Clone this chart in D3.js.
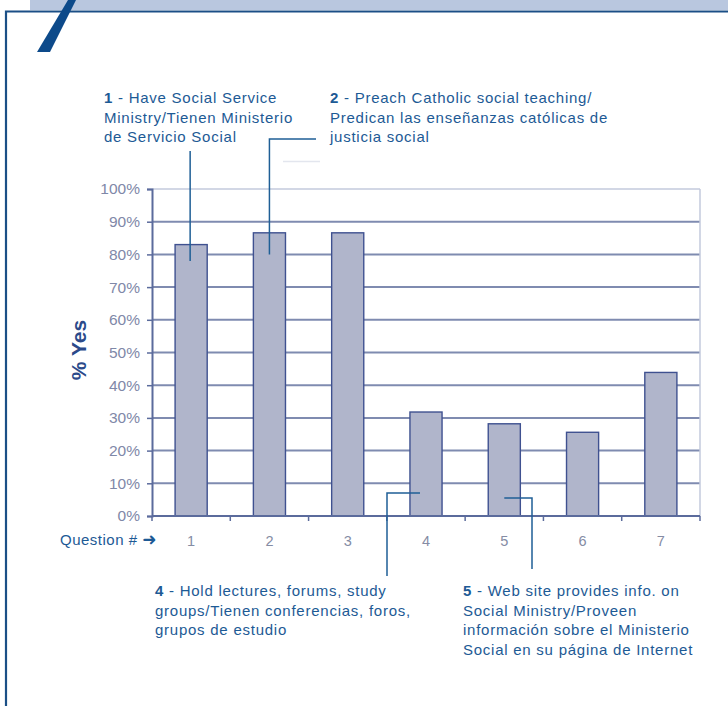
<!DOCTYPE html>
<html>
<head>
<meta charset="utf-8">
<script src="https://cdn.jsdelivr.net/npm/d3@7"></script>
<style>
    body { margin: 0; background: #fff; }
    svg { display: block; font-family: 'Liberation Sans', Arial, sans-serif; }
</style>
</head>
<body>
<div id="chart"></div>
<script>
/* * * * * * * * * * * * * *
 *     Social ministry bars   *
 * * * * * * * * * * * * * */

// data
const questions = ['1', '2', '3', '4', '5', '6', '7'];
const pctYes = [83, 86.6, 86.6, 31.8, 28.2, 25.6, 43.9];
const yTicks = [0, 10, 20, 30, 40, 50, 60, 70, 80, 90, 100];

// callout texts (first chunk is the bold number)
const note1 = ['1', ' - Have Social Service', 'Ministry/Tienen Ministerio', 'de Servicio Social'];
const note2 = ['2', ' - Preach Catholic social teaching/', 'Predican las enseñanzas católicas de', 'justicia social'];
const note4 = ['4', ' - Hold lectures, forums, study', 'groups/Tienen conferencias, foros,', 'grupos de estudio'];
const note5 = ['5', ' - Web site provides info. on', 'Social Ministry/Proveen', 'información sobre el Ministerio', 'Social en su página de Internet'];

const width = 728;
const height = 706;
const margin = { top: 189, right: 28, bottom: 190, left: 152 };
const innerW = width - margin.left - margin.right;
const innerH = height - margin.top - margin.bottom;

const noteBlue = '#1d5a95';
const gridCol = '#7f8bb0';

let svg = d3.select('#chart').append('svg').attr('width', width).attr('height', height);

// page frame
svg.append('rect').attr('x', 30).attr('y', 0).attr('width', width - 30).attr('height', 10).attr('fill', '#b9c7df');
svg.append('path')
    .attr('d', `M6,${height} V11.5 H${width}`)
    .attr('fill', 'none')
    .attr('stroke', '#1b4f86')
    .attr('stroke-width', 2.2);
svg.append('polygon').attr('points', '68,0 76,0 50,52 37,52').attr('fill', '#0d4a8a');

let x = d3.scaleBand().domain(questions).range([0, innerW]).paddingInner(0.59).paddingOuter(0.295);
let xTick = d3.scaleLinear().domain([0, questions.length]).range([0, innerW]);
let y = d3.scaleLinear().domain([0, 100]).range([innerH, 0]);

let g = svg.append('g').attr('transform', `translate(${margin.left},${margin.top})`);

// gridlines
g.selectAll('.grid')
    .data(yTicks.filter((d) => d > 0))
    .enter()
    .append('line')
    .attr('x1', 0)
    .attr('x2', innerW)
    .attr('y1', (d) => y(d))
    .attr('y2', (d) => y(d))
    .attr('stroke', (d) => (d === 100 ? '#c3cadd' : gridCol))
    .attr('stroke-width', (d) => (d === 100 ? 1.5 : 2));

// right border of plot area
g.append('line')
    .attr('x1', innerW).attr('x2', innerW)
    .attr('y1', y(100)).attr('y2', y(0))
    .attr('stroke', '#c3cadd').attr('stroke-width', 1.5);

// bars
g.selectAll('.bar')
    .data(pctYes)
    .enter()
    .append('rect')
    .attr('class', 'bar')
    .attr('x', (d, i) => x(questions[i]))
    .attr('y', (d) => y(d))
    .attr('width', x.bandwidth())
    .attr('height', (d) => y(0) - y(d))
    .attr('fill', '#b0b5cb')
    .attr('stroke', '#3f5190')
    .attr('stroke-width', 1.4);

// y axis
let yAxis = d3.axisLeft(y).tickValues(yTicks).tickSize(5).tickPadding(7).tickFormat((d) => d + '%');
let yg = g.append('g').call(yAxis);
yg.select('.domain').attr('stroke', '#5b6b9c').attr('stroke-width', 2);
yg.selectAll('.tick line').attr('stroke', '#5b6b9c').attr('stroke-width', 1.5);
yg.selectAll('.tick text')
    .attr('fill', '#7f88a8')
    .style('font-size', '15.5px')
    .style('font-family', "'Liberation Sans', Arial, sans-serif");

// x axis line with ticks on band edges
g.append('line')
    .attr('x1', 0).attr('x2', innerW)
    .attr('y1', y(0)).attr('y2', y(0))
    .attr('stroke', '#5b6b9c').attr('stroke-width', 2);
g.selectAll('.xtick')
    .data(d3.range(questions.length + 1))
    .enter()
    .append('line')
    .attr('x1', (d) => xTick(d)).attr('x2', (d) => xTick(d))
    .attr('y1', y(0)).attr('y2', y(0) + 5)
    .attr('stroke', '#5b6b9c').attr('stroke-width', 1.5);
g.selectAll('.xlab')
    .data(questions)
    .enter()
    .append('text')
    .attr('x', (d) => x(d) + x.bandwidth() / 2)
    .attr('y', y(0) + 30)
    .attr('text-anchor', 'middle')
    .attr('fill', '#858ca4')
    .style('font-size', '14.5px')
    .text((d) => d);

// axis titles
let q = svg.append('text')
    .attr('x', 60).attr('y', 545)
    .attr('fill', noteBlue)
    .style('font-size', '15px')
    .style('letter-spacing', '0.5px');
q.append('tspan').text('Question # ');
q.append('tspan')
    .style('font-family', "'DejaVu Sans', sans-serif")
    .style('font-weight', 'bold')
    .style('font-size', '17px')
    .text('➜');

svg.append('text')
    .attr('transform', `translate(86,350) rotate(-90)`)
    .attr('text-anchor', 'middle')
    .attr('fill', '#2b4a8a')
    .style('font-size', '21px')
    .style('font-weight', 'bold')
    .text('% Yes');

// callout leaders
let cx = (i) => margin.left + x(questions[i]) + x.bandwidth() / 2;
let cy = (v) => margin.top + y(v);
let leaders = [
    `M${cx(0) - 1},151 V${cy(78)}`,
    `M316,139 H${cx(1)} V${cy(80)}`,
    `M${cx(3) - 6},${cy(7)} H387 V576`,
    `M${cx(4)},${cy(5.5)} H532 V569`
];
svg.selectAll('.leader')
    .data(leaders)
    .enter()
    .append('path')
    .attr('d', (d) => d)
    .attr('fill', 'none')
    .attr('stroke', '#1f5f96')
    .attr('stroke-width', 1.5);
// faint stray line from the source
svg.append('line').attr('x1', 283).attr('x2', 320).attr('y1', 161.5).attr('y2', 161.5)
    .attr('stroke', '#e3e6ee').attr('stroke-width', 1.5);

function note(lines, left, top) {
    let t = svg.append('text')
        .attr('fill', noteBlue)
        .style('font-size', '15px')
        .style('letter-spacing', '0.75px');
    t.append('tspan').attr('x', left).attr('y', top).style('font-weight', 'bold').text(lines[0]);
    t.append('tspan').text(lines[1]);
    lines.slice(2).forEach((s, i) => {
        t.append('tspan').attr('x', left).attr('y', top + (i + 1) * 19.5).text(s);
    });
}

note(note1, 104, 103);
note(note2, 330, 103);
note(note4, 155, 596);
note(note5, 463, 596);
</script>
</body>
</html>
